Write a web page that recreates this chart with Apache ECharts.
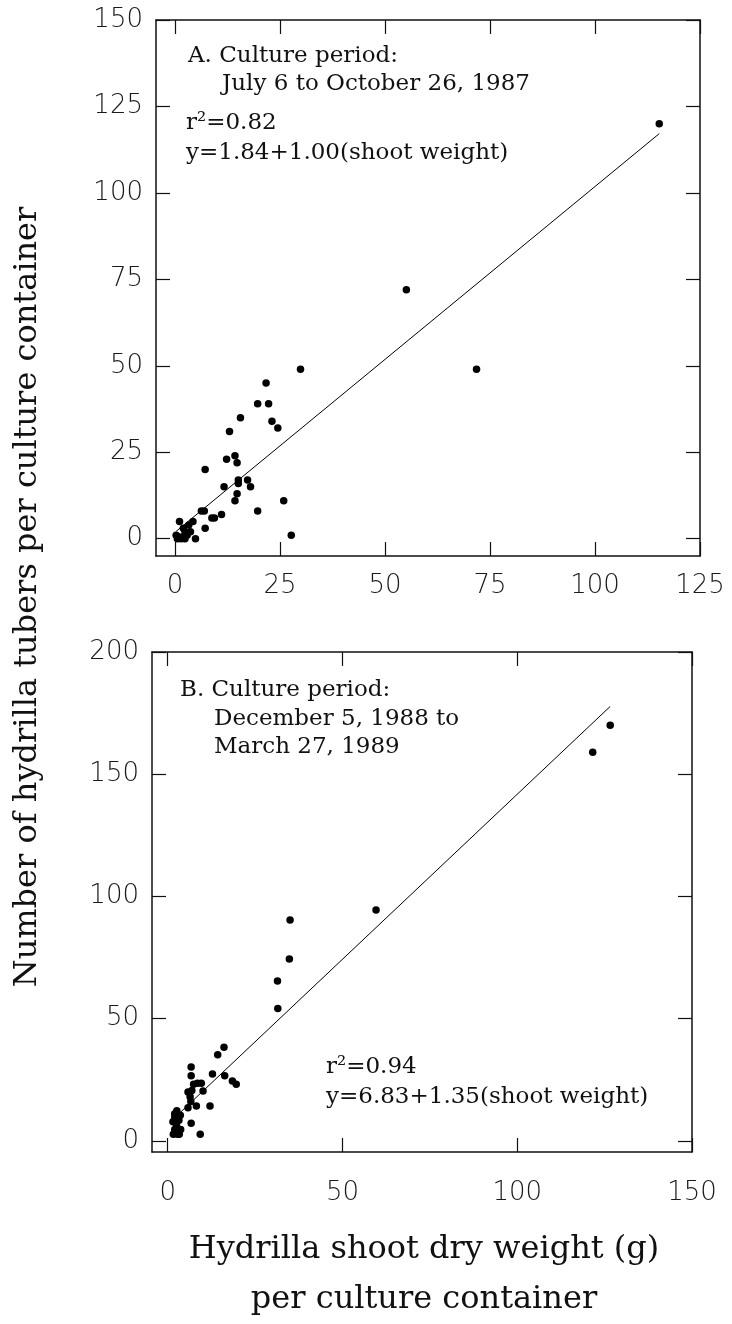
<!DOCTYPE html>
<html><head><meta charset="utf-8">
<script src="https://cdn.jsdelivr.net/npm/echarts@6/dist/echarts.min.js"></script>
<style>html,body{margin:0;padding:0;background:#fff}#c{width:732px;height:1324px}</style>
</head><body><div id="c"></div>
<script>
// Panel A: July 6 to October 26, 1987
const weightA = [115.3,55.1,71.8,29.9,21.7,19.7,22.3,15.6,23.1,24.5,13.0,14.3,12.3,14.8,7.2,15.1,15.1,17.3,18.0,11.7,14.8,14.3,25.9,19.7,27.7,11.1,8.8,9.4,6.3,7.0,7.2,1.1,4.3,3.3,2.0,2.4,0.3,1.1,2.0,2.9,0.6,1.5,2.4,4.9,3.7];
const tubersA = [120,72,49,49,45,39,39,35,34,32,31,24,23,22,20,17,16,17,15,15,13,11,11,8,1,7,6,6,8,8,3,5,5,4,3,2,1,0.5,0.5,1,0,0,0,0,2];
// Panel B: December 5, 1988 to March 27, 1989
const weightB = [126.6,121.6,59.6,35.0,34.8,31.4,31.5,16.1,14.3,6.7,6.7,12.8,16.3,18.5,19.6,9.6,8.5,7.4,5.8,6.9,10.1,6.4,6.6,5.8,8.2,12.1,2.6,2.0,2.0,1.5,2.5,2.0,2.8,1.6,6.7,9.3,3.7,3.3,3.2,2.6,3.6];
const tubersB = [170,159,94.5,90.4,74.4,65.4,54.2,38.3,35.3,30.3,26.7,27.4,26.7,24.5,23.2,23.6,23.6,23.2,20,20.7,20.4,18.1,16.2,13.6,14.3,14.3,12.4,11.1,9.8,7.9,6.6,4.7,2.8,2.8,7.3,2.8,4.7,2.8,8.5,5.5,10.5];
// regression [intercept, slope]
const fitA = [1.84, 1.00];
const fitB = [6.83, 1.35];
// tick labels
const ticksAx = [0,25,50,75,100,125];
const ticksAy = [0,25,50,75,100,125,150];
const ticksBx = [0,50,100,150];
const ticksBy = [0,50,100,150,200];

const zip = (xs, ys) => xs.map((x, i) => [x, ys[i]]);
const fitLine = (xs, f) => {
  const lo = Math.min(...xs), hi = Math.max(...xs);
  return [[lo, f[0] + f[1]*lo], [hi, f[0] + f[1]*hi]];
};

const chart = echarts.init(document.getElementById('c'), null, {renderer:'canvas'});
const lineCol = '#111';
const tickFont = {fontFamily:'DejaVu Sans', fontWeight:200, fontSize:26, color:'#1a1a1a'};
function mkAxis(grid, pos, min, max, ticks, labels, margin) {
  return {
    type:'value', gridIndex:grid, position:pos, min:min, max:max,
    axisLine:{show:true, onZero:false, lineStyle:{color:lineCol, width:1.5}},
    axisTick:{show:true, inside:true, length:14, customValues:ticks, lineStyle:{color:lineCol, width:1.2}},
    axisLabel:Object.assign({show:labels, customValues:ticks, margin:margin}, tickFont),
    splitLine:{show:false}
  };
}
const serif = 'DejaVu Serif';
const txt = (x, y, s, size) => ({type:'text', x:x, y:y, style:{text:s, font:`${size}px "${serif}"`, fill:'#111', verticalAlign:'middle'}});

chart.setOption({
  animation:false,
  grid:[
    {left:156, top:20, width:544, height:536},
    {left:152, top:652, width:540, height:500}
  ],
  xAxis:[
    mkAxis(0,'bottom',-4.5,125,ticksAx,true,17),
    mkAxis(0,'top',-4.5,125,ticksAx,false,8),
    mkAxis(1,'bottom',-4.5,150,ticksBx,true,28),
    mkAxis(1,'top',-4.5,150,ticksBx,false,8)
  ],
  yAxis:[
    mkAxis(0,'left',-5,150,ticksAy,true,13),
    mkAxis(0,'right',-5,150,ticksAy,false,8),
    mkAxis(1,'left',-4.5,200,ticksBy,true,13),
    mkAxis(1,'right',-4.5,200,ticksBy,false,8)
  ],
  series:[
    {type:'scatter', xAxisIndex:0, yAxisIndex:0, data:zip(weightA,tubersA), symbolSize:7.5, itemStyle:{color:'#000', opacity:1}},
    {type:'line', xAxisIndex:0, yAxisIndex:0, data:fitLine(weightA,fitA), symbol:'none', lineStyle:{color:'#000', width:1}},
    {type:'scatter', xAxisIndex:2, yAxisIndex:2, data:zip(weightB,tubersB), symbolSize:7.5, itemStyle:{color:'#000', opacity:1}},
    {type:'line', xAxisIndex:2, yAxisIndex:2, data:fitLine(weightB,fitB), symbol:'none', lineStyle:{color:'#000', width:1}}
  ],
  graphic:[
    txt(188,56,'A. Culture period:',23),
    txt(222,84,'July 6 to October 26, 1987',23),
    txt(186,123,'r²=0.82',23),
    txt(186,153,'y=1.84+1.00(shoot weight)',23),
    txt(180,690,'B. Culture period:',23),
    txt(214,719,'December 5, 1988 to',23),
    txt(214,747,'March 27, 1989',23),
    txt(326,1067,'r²=0.94',23),
    txt(326,1097,'y=6.83+1.35(shoot weight)',23),
    {type:'text', x:28, y:597, rotation:Math.PI/2, style:{text:'Number of hydrilla tubers per culture container', font:`32px "${serif}"`, fill:'#111', align:'center', verticalAlign:'middle'}},
    {type:'text', x:424, y:1250, style:{text:'Hydrilla shoot dry weight (g)', font:`32px "${serif}"`, fill:'#111', align:'center', verticalAlign:'middle'}},
    {type:'text', x:424, y:1300, style:{text:'per culture container', font:`32px "${serif}"`, fill:'#111', align:'center', verticalAlign:'middle'}}
  ]
});
</script></body></html>
